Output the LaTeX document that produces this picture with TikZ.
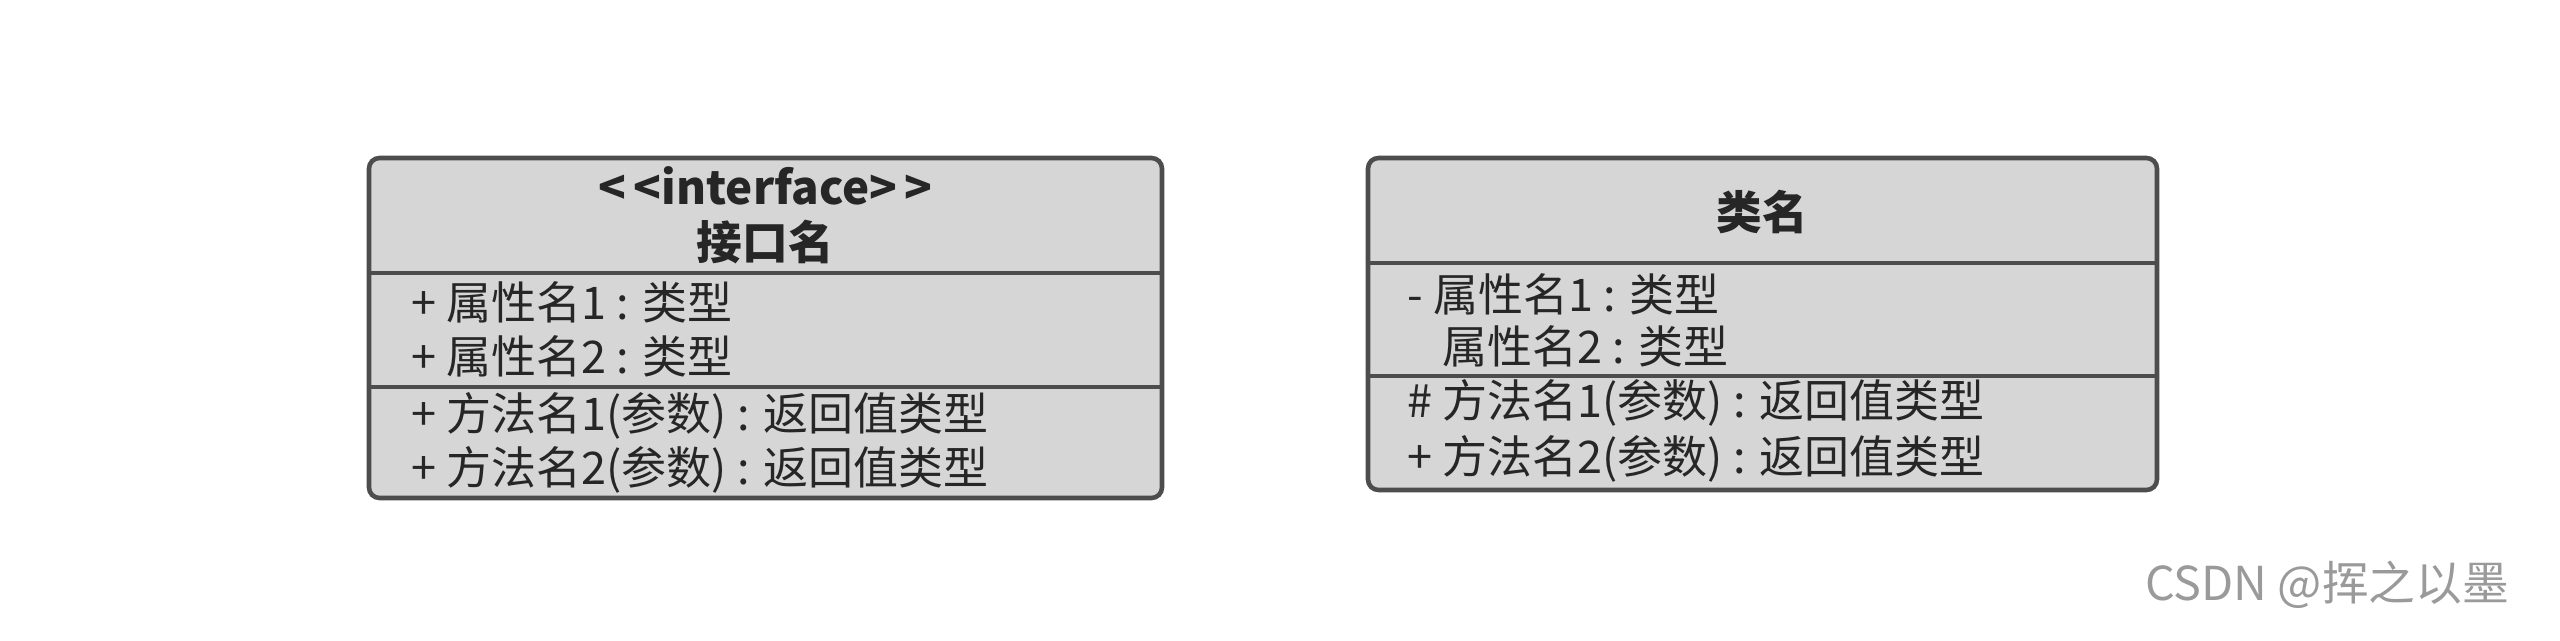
\documentclass[tikz,border=0pt]{standalone}
\usepackage{fontspec}
\setmainfont{Noto Sans CJK SC}
\usepackage{tikz}
\usetikzlibrary{positioning}
\definecolor{boxfill}{HTML}{D6D6D6}
\definecolor{boxline}{HTML}{4D4D4D}
\definecolor{marktext}{HTML}{9A9A9A}
\tikzset{
    classbox/.style={
        rectangle,
        rounded corners=3pt,
        draw=boxline,
        fill=boxfill,
        line width=1.3pt,
        inner sep=0pt
    },
    divider/.style={draw=boxline, line width=1.3pt},
    member/.style={anchor=west, inner sep=0pt, font=\fontsize{12.8}{15}\selectfont, text=black!85},
    title/.style={inner sep=0pt, font=\fontsize{13}{15}\selectfont\bfseries, text=black!85}
}
\begin{document}
\begin{tikzpicture}

\useasboundingbox (0,0) rectangle (25.6,6.4);

% interface
\node[classbox, minimum width=7.93cm, minimum height=3.40cm] (iface) at (7.655,3.12) {};
\path[divider] (iface.west |- 0,3.67) -- (iface.east |- 0,3.67);
\path[divider] (iface.west |- 0,2.53) -- (iface.east |- 0,2.53);

\node[title] (istereo) at (7.655,4.54) {<\,<interface>\,>};
\node[title] (iname) at (7.655,3.98) {接口名};

\node[member] (iattr1) at (4.11,3.38) {+ 属性名1 : 类型};
\node[member] (iattr2) at (4.11,2.84) {+ 属性名2 : 类型};
\node[member] (iop1) at (4.11,2.24) {+ 方法名1(参数) : 返回值类型};
\node[member] (iop2) at (4.11,1.70) {+ 方法名2(参数) : 返回值类型};

% class
\node[classbox, minimum width=7.89cm, minimum height=3.32cm] (cls) at (17.625,3.16) {};
\path[divider] (cls.west |- 0,3.77) -- (cls.east |- 0,3.77);
\path[divider] (cls.west |- 0,2.64) -- (cls.east |- 0,2.64);

\node[title] (cname) at (17.625,4.28) {类名};

\node[member] (cattr1) at (14.07,3.46) {- 属性名1 : 类型};
\node[member] (cattr2) at (14.42,2.94) {属性名2 : 类型};
\node[member] (cop1) at (14.07,2.37) {\# 方法名1(参数) : 返回值类型};
\node[member] (cop2) at (14.07,1.81) {+ 方法名2(参数) : 返回值类型};

\node[text=marktext, font=\fontsize{13.3}{15}\selectfont, inner sep=0pt] (mark) at (23.27,0.55) {CSDN @挥之以墨};

\end{tikzpicture}
\end{document}
